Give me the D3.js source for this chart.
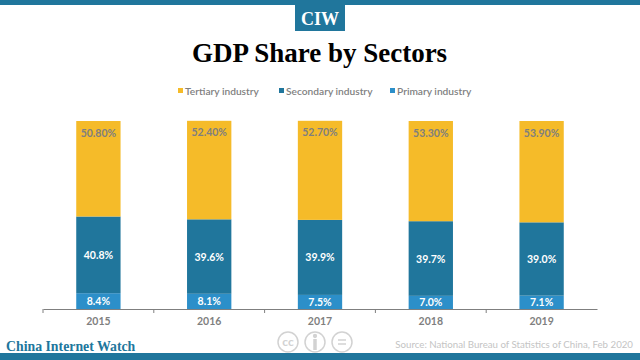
<!DOCTYPE html>
<html>
<head>
<meta charset="utf-8">
<script src="https://cdn.jsdelivr.net/npm/d3@7"></script>
<style>
  html, body { margin: 0; padding: 0; background: #fff; }
  svg { display: block; }
  text { font-family: Lato, sans-serif; }
  .serif { font-family: "Liberation Serif", serif; font-weight: bold; }
</style>
</head>
<body>
<svg id="chart"></svg>
<script>
// data

const years = ['2015', '2016', '2017', '2018', '2019'];
const primary = [8.4, 8.1, 7.5, 7.0, 7.1];
const secondary = [40.8, 39.6, 39.9, 39.7, 39.0];
const tertiary = [50.8, 52.4, 52.7, 53.3, 53.9];
const sectorNames = ['Tertiary industry', 'Secondary industry', 'Primary industry'];

// size

const width = 640;
const height = 360;
const blue = '#20769c';
const yellow = '#f5bb29';
const lightBlue = '#2c8fc9';
const grey = '#7f7f7f';

const svg = d3.select('#chart')
    .attr('width', width)
    .attr('height', height);

// scales

const xScale = d3.scaleBand()
    .domain(years)
    .range([43, 597])
    .paddingInner(0.6)
    .paddingOuter(0.3);

const yScale = d3.scaleLinear()
    .domain([0, 100])
    .range([309, 121]);

// frame and logo

svg.append('rect').attr('width', width).attr('height', 5).attr('fill', blue);
svg.append('rect').attr('y', 353).attr('width', width).attr('height', 7).attr('fill', blue);
svg.append('rect').attr('x', 295).attr('y', 5).attr('width', 50).attr('height', 26).attr('fill', blue);

svg.append('text')
    .attr('class', 'serif')
    .attr('x', 320)
    .attr('y', 25)
    .attr('text-anchor', 'middle')
    .attr('font-size', 18)
    .attr('fill', '#fff')
    .text('CIW');

svg.append('text')
    .attr('class', 'serif')
    .attr('x', 319.5)
    .attr('y', 62)
    .attr('text-anchor', 'middle')
    .attr('font-size', 27)
    .attr('fill', '#000')
    .text('GDP Share by Sectors');

// legend

const legendItems = [
    { name: sectorNames[0], color: yellow, x: 178 },
    { name: sectorNames[1], color: blue, x: 279 },
    { name: sectorNames[2], color: lightBlue, x: 390 }
];

legendItems.forEach(item => {
    svg.append('rect')
        .attr('x', item.x)
        .attr('y', 88)
        .attr('width', 5)
        .attr('height', 5)
        .attr('fill', item.color);
    svg.append('text')
        .attr('x', item.x + 7)
        .attr('y', 95)
        .attr('font-size', 10.2)
        .attr('font-weight', 600)
        .attr('fill', grey)
        .text(item.name);
});

// bars

const rows = years.map((year, i) => ({
    year: year,
    primary: primary[i],
    secondary: secondary[i],
    tertiary: tertiary[i]
}));

const stacked = d3.stack().keys(['primary', 'secondary', 'tertiary'])(rows);
const barColors = { primary: lightBlue, secondary: blue, tertiary: yellow };
const labelColors = { primary: '#fff', secondary: '#fff', tertiary: grey };

stacked.forEach(layer => {
    const group = svg.append('g');

    group.selectAll('rect')
        .data(layer)
        .enter()
        .append('rect')
        .attr('x', d => xScale(d.data.year))
        .attr('y', d => yScale(d[1]))
        .attr('width', xScale.bandwidth())
        .attr('height', d => yScale(d[0]) - yScale(d[1]))
        .attr('fill', barColors[layer.key]);

    group.selectAll('text')
        .data(layer)
        .enter()
        .append('text')
        .attr('x', d => xScale(d.data.year) + xScale.bandwidth() / 2)
        .attr('y', d => layer.key === 'tertiary'
            ? yScale(d[1]) + 15.5
            : (yScale(d[0]) + yScale(d[1])) / 2 + 4)
        .attr('text-anchor', 'middle')
        .attr('font-size', 10.5)
        .attr('font-weight', 'bold')
        .attr('fill', labelColors[layer.key])
        .text(d => layer.key === 'tertiary'
            ? d.data.tertiary.toFixed(2) + '%'
            : d.data[layer.key].toFixed(1) + '%');
});

// axis

const axis = svg.append('g')
    .attr('transform', 'translate(0, 309)')
    .call(d3.axisBottom(xScale).tickSize(0).tickPadding(9));

axis.select('.domain').attr('stroke', grey).attr('stroke-width', 1);
axis.selectAll('text')
    .attr('font-family', 'Lato, sans-serif')
    .attr('font-size', 10.5)
    .attr('font-weight', 'bold')
    .attr('fill', grey);

axis.selectAll('line.boundary')
    .data(years)
    .enter()
    .append('line')
    .attr('class', 'boundary')
    .attr('x1', d => xScale(d) - xScale.step() * xScale.paddingOuter())
    .attr('x2', d => xScale(d) - xScale.step() * xScale.paddingOuter())
    .attr('y1', 0)
    .attr('y2', 4)
    .attr('stroke', grey);

// footer

svg.append('text')
    .attr('class', 'serif')
    .attr('x', 6)
    .attr('y', 351)
    .attr('font-size', 13.8)
    .attr('fill', blue)
    .text('China Internet Watch');

svg.append('text')
    .attr('x', 633)
    .attr('y', 348)
    .attr('text-anchor', 'end')
    .attr('font-size', 9.7)
    .attr('fill', '#c4c4c4')
    .text('Source: National Bureau of Statistics of China, Feb 2020');

// licence badges

const badge = svg.append('g')
    .attr('fill', 'none')
    .attr('stroke', '#d2d2d2')
    .attr('stroke-width', 1.5);

[288, 315, 342].forEach(cx => {
    badge.append('circle').attr('cx', cx).attr('cy', 342).attr('r', 10);
});

svg.append('text')
    .attr('x', 288)
    .attr('y', 346)
    .attr('text-anchor', 'middle')
    .attr('font-size', 12)
    .attr('font-weight', 'bold')
    .attr('fill', '#d2d2d2')
    .text('cc');

badge.append('circle').attr('cx', 315).attr('cy', 336).attr('r', 1.4).attr('fill', '#d2d2d2');
badge.append('line').attr('x1', 315).attr('x2', 315).attr('y1', 339).attr('y2', 350).attr('stroke-width', 3.5);
badge.append('line').attr('x1', 338).attr('x2', 346).attr('y1', 340).attr('y2', 340);
badge.append('line').attr('x1', 338).attr('x2', 346).attr('y1', 344).attr('y2', 344);
</script>
</body>
</html>
